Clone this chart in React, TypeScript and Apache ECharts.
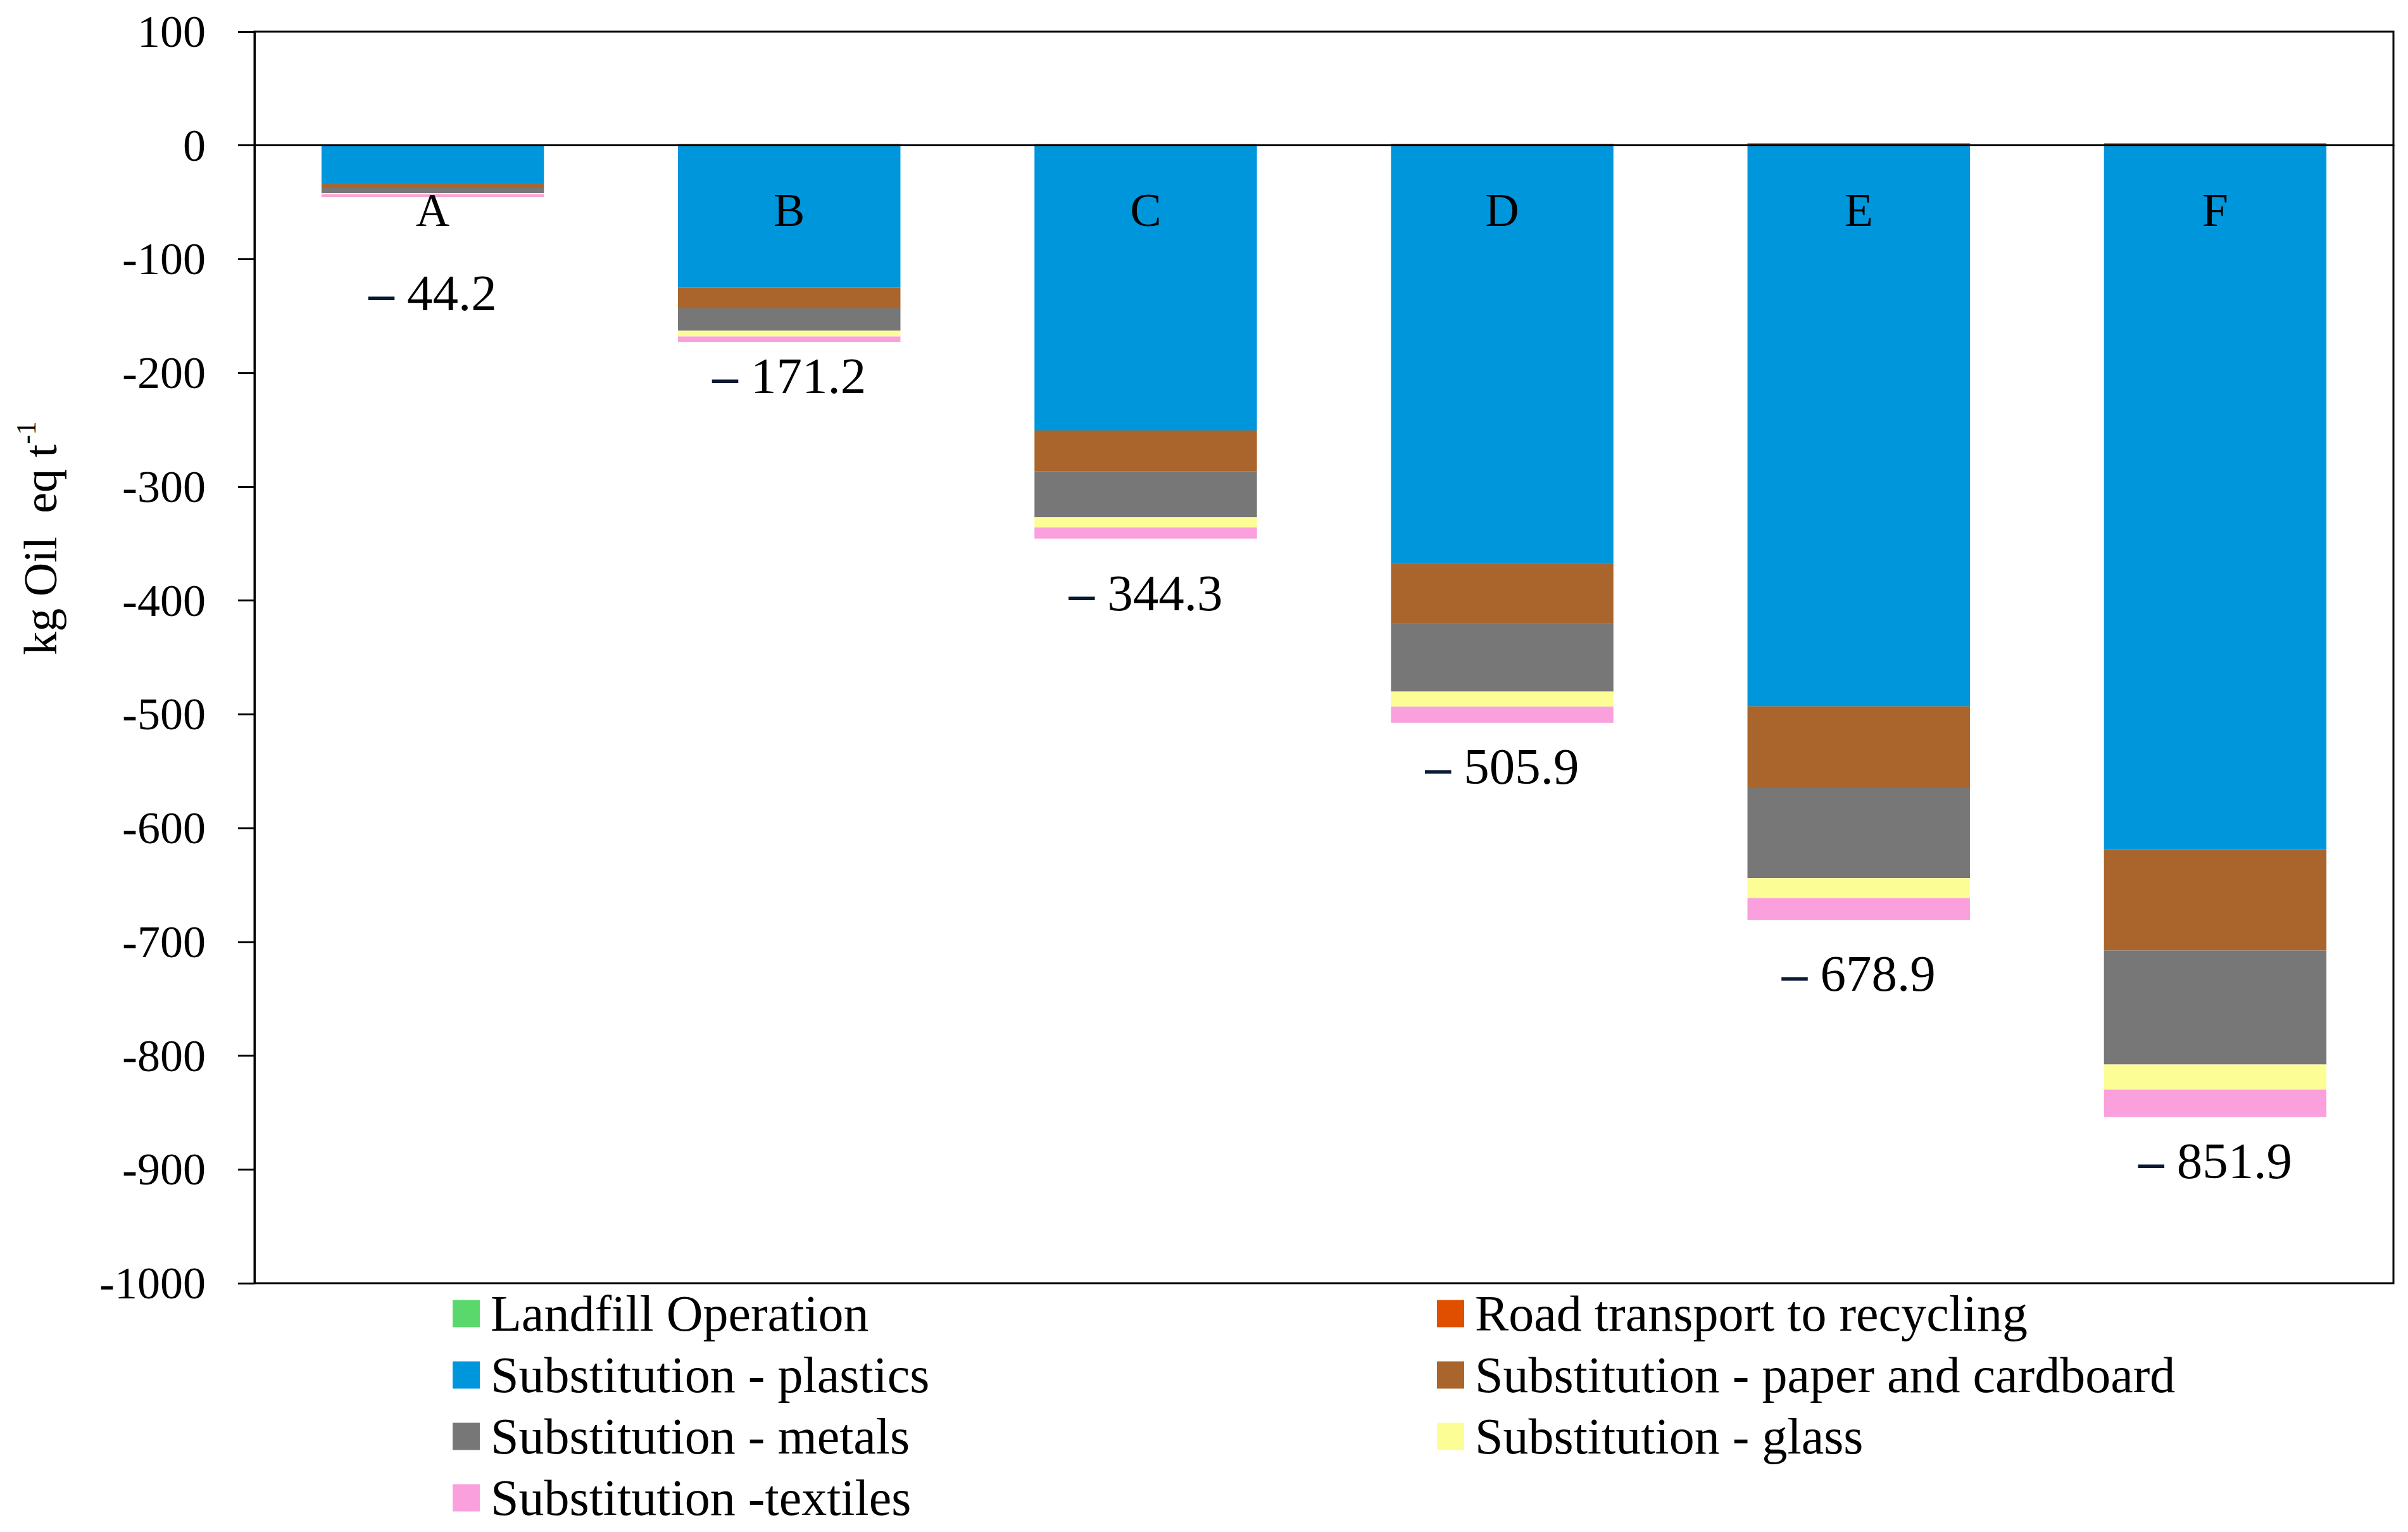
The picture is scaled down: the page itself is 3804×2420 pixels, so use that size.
import React, { useEffect, useRef } from 'react';
import * as echarts from 'echarts';

const FONT = "'Liberation Serif', 'Times New Roman', serif";

const categories = ['A', 'B', 'C', 'D', 'E', 'F'];
const landfill = [1.0, 1.2, 0.3, 0.2, 0.1, 0.0];
const roadTransport = [0.0, 0.3, 1.0, 1.3, 1.8, 2.0];
const plastics = [-33, -125, -250.5, -367, -493, -618.5];
const paper = [-4.4, -18.2, -35.8, -53.4, -71.4, -89.1];
const metals = [-4.5, -19.7, -40.5, -59.6, -79.7, -100.2];
const glass = [-1.1, -5.0, -9.0, -13.3, -17.5, -22.1];
const textiles = [-2.2, -4.8, -9.8, -14.1, -19.2, -24.0];
const totals = [-44.2, -171.2, -344.3, -505.9, -678.9, -851.9];

const seriesNames = [
  'Landfill Operation',
  'Road transport to recycling',
  'Substitution - plastics',
  'Substitution - paper and cardboard',
  'Substitution - metals',
  'Substitution - glass',
  'Substitution -textiles',
];
const seriesColors = ['#5ad86b', '#e04f00', '#0096dc', '#a9652c', '#777777', '#fdfd96', '#f9a0dd'];
const seriesValues = [landfill, roadTransport, plastics, paper, metals, glass, textiles];

// gap (px) between the bottom of each stack and its total label
const labelGaps = [112, 13, 46, 29, 44, 29];

export default function App() {
  const ref = useRef<HTMLDivElement>(null);

  useEffect(() => {
    document.body.style.margin = '0';
    const chart = echarts.init(ref.current as HTMLDivElement, null, { renderer: 'svg' });

    const series = seriesNames.map((name, si) => {
      const vals = seriesValues[si];
      const isLast = si === seriesNames.length - 1;
      const isPlastics = si === 2;
      let label: any = { show: false };
      if (isLast) {
        label = {
          show: true,
          position: 'bottom',
          formatter: (p: any) => `{d|–\u00a0}{v|${Math.abs(totals[p.dataIndex]).toFixed(1)}}`,
          rich: {
            d: { fontSize: 81, fontFamily: FONT, color: '#0b1a33', fontWeight: 'bold' },
            v: { fontSize: 81, fontFamily: FONT, color: '#000' },
          },
        };
      } else if (isPlastics) {
        label = {
          show: true,
          position: 'insideTop',
          distance: 65,
          formatter: '{b}',
          fontSize: 74,
          fontFamily: FONT,
          color: '#000',
        };
      }
      return {
        name,
        type: 'bar',
        stack: 'total',
        barWidth: '62.4%',
        itemStyle: { color: seriesColors[si] },
        data: isLast
          ? vals.map((v, i) => ({ value: v, label: { distance: labelGaps[i] } }))
          : vals,
        label,
      };
    });

    const legendBase = {
      orient: 'vertical',
      top: 2035,
      padding: 0,
      itemWidth: 43,
      itemHeight: 43,
      itemGap: 17,
      icon: 'rect',
      selectedMode: false,
      textStyle: {
        fontSize: 80,
        lineHeight: 80,
        fontFamily: FONT,
        color: '#000',
        padding: [0, 0, 0, 12],
      },
    };

    chart.setOption({
      animation: false,
      backgroundColor: '#fff',
      grid: {
        left: 402,
        right: 23,
        top: 50,
        bottom: 393,
        show: true,
        borderColor: '#000',
        borderWidth: 3,
        backgroundColor: 'transparent',
      },
      xAxis: {
        type: 'category',
        data: categories,
        z: 10,
        axisLine: { onZero: true, lineStyle: { color: '#000', width: 3 } },
        axisTick: { show: false },
        axisLabel: { show: false },
      },
      yAxis: {
        type: 'value',
        min: -1000,
        max: 100,
        interval: 100,
        axisLine: { show: true, lineStyle: { color: '#000', width: 3 } },
        axisTick: { show: true, length: 26, lineStyle: { color: '#000', width: 3 } },
        axisLabel: {
          fontSize: 72,
          margin: 77,
          color: '#000',
          fontFamily: FONT,
          formatter: (v: number) => String(v),
        },
        splitLine: { show: false },
      },
      legend: [
        { ...legendBase, left: 715, data: [seriesNames[0], seriesNames[2], seriesNames[4], seriesNames[6]] },
        { ...legendBase, left: 2270, data: [seriesNames[1], seriesNames[3], seriesNames[5]] },
      ],
      graphic: [
        {
          type: 'text',
          x: 64,
          y: 850,
          rotation: Math.PI / 2,
          style: {
            text: '{a|kg Oil  eq t}{s|-1}',
            align: 'center',
            verticalAlign: 'middle',
            fill: '#000',
            rich: {
              a: { fontSize: 74, fontFamily: FONT, lineHeight: 90, fill: '#000', color: '#000' },
              s: { fontSize: 44, fontFamily: FONT, lineHeight: 90, verticalAlign: 'top', fill: '#000', color: '#000' },
            },
          },
        },
      ],
      series,
    });

    return () => chart.dispose();
  }, []);

  return <div ref={ref} style={{ width: 3804, height: 2420 }} />;
}
